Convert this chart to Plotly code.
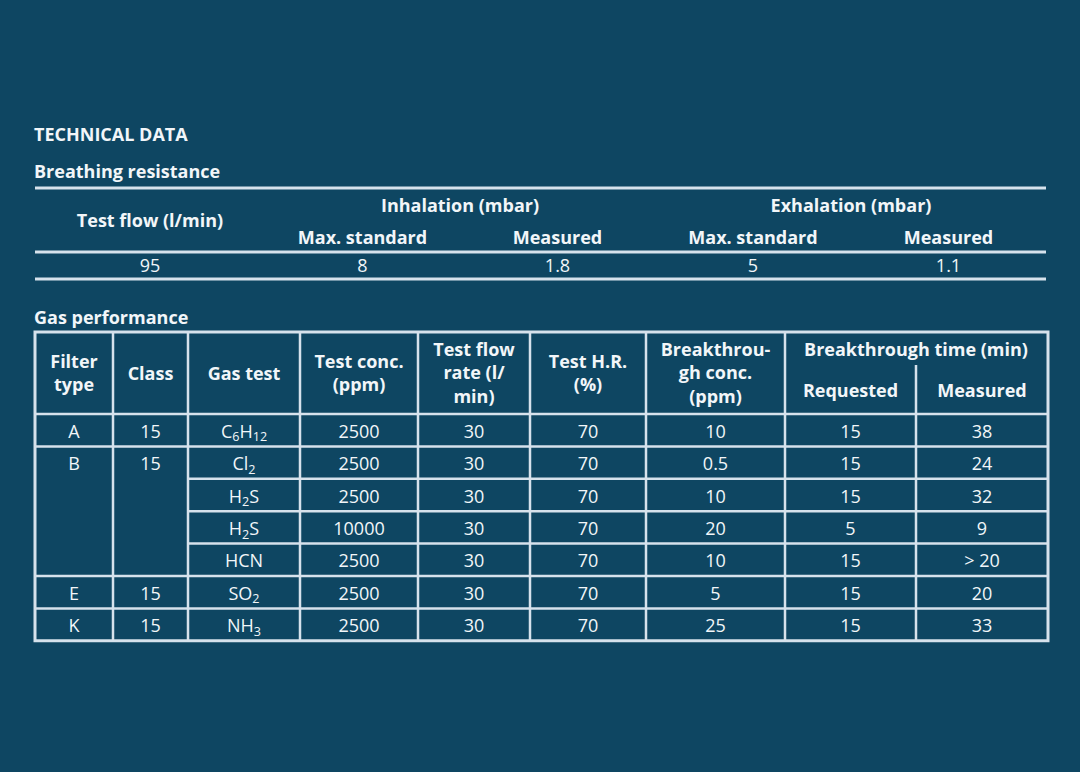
import plotly.graph_objects as go

# ---- data: breathing resistance ----
br_flow_header = "Test flow (l/min)"
br_groups = ["Inhalation (mbar)", "Exhalation (mbar)"]
br_subheaders = ["Max. standard", "Measured", "Max. standard", "Measured"]
br_values = ["95", "8", "1.8", "5", "1.1"]

# ---- data: gas performance ----
gas_headers = ["Filter<br>type", "Class", "Gas test", "Test conc.<br>(ppm)",
               "Test flow<br>rate (l/<br>min)", "Test H.R.<br>(%)",
               "Breakthrou-<br>gh conc.<br>(ppm)"]
bt_group = "Breakthrough time (min)"
bt_subheaders = ["Requested", "Measured"]

filter_types = ["A", "B", "E", "K"]
filter_classes = ["15", "15", "15", "15"]
filter_span = [1, 4, 1, 1]  # number of gas tests per filter type
gas_tests = ["C<sub>6</sub>H<sub>12</sub>", "Cl<sub>2</sub>", "H<sub>2</sub>S",
             "H<sub>2</sub>S", "HCN", "SO<sub>2</sub>", "NH<sub>3</sub>"]
test_conc = ["2500", "2500", "2500", "10000", "2500", "2500", "2500"]
test_flow = ["30", "30", "30", "30", "30", "30", "30"]
test_hr = ["70", "70", "70", "70", "70", "70", "70"]
bt_conc = ["10", "0.5", "10", "20", "10", "5", "25"]
bt_requested = ["15", "15", "15", "5", "15", "15", "15"]
bt_measured = ["38", "24", "32", "9", "> 20", "20", "33"]

# ---- layout constants (pixel space) ----
W, H = 1080, 772
BG = "#0e4662"
LINE = "#d6e2ec"
TXT = "#f2f6f9"
FONT = "Open Sans"

br_cols = [35, 265, 460, 655, 851, 1046]
br_top, br_mid, br_bot = 188, 252, 279

gp_cols = [35, 113, 188, 300, 418, 530, 646, 785, 916, 1048]
gp_top, gp_head = 332, 414
row_h = 32.4

fig = go.Figure()
shapes = []


def hline(x0, x1, y, w=2.5):
    shapes.append(dict(type="line", xref="x", yref="y", x0=x0, x1=x1, y0=y, y1=y,
                       line=dict(color=LINE, width=w)))


def vline(x, y0, y1, w=2.5):
    shapes.append(dict(type="line", xref="x", yref="y", x0=x, x1=x, y0=y0, y1=y1,
                       line=dict(color=LINE, width=w)))


def add_text(xs, ys, texts, size=18, bold=False, pos="middle center"):
    fig.add_trace(go.Scatter(
        x=xs, y=ys, text=texts, mode="text", textposition=pos,
        textfont=dict(family=FONT, size=size, color=TXT, weight=700 if bold else 400),
        hoverinfo="skip", showlegend=False))


def centers(cols):
    return [(a + b) / 2 for a, b in zip(cols[:-1], cols[1:])]


# section titles
add_text([34], [136], ["TECHNICAL DATA"], bold=True, pos="middle right")
add_text([34], [173], ["Breathing resistance"], bold=True, pos="middle right")
add_text([34], [319], ["Gas performance"], bold=True, pos="middle right")

# ---- breathing resistance table ----
brc = centers(br_cols)
hline(br_cols[0], br_cols[-1], br_top, 3)
hline(br_cols[0], br_cols[-1], br_mid, 3)
hline(br_cols[0], br_cols[-1], br_bot, 3)
add_text([brc[0]], [222], [br_flow_header], bold=True)
add_text([br_cols[2], br_cols[4]], [207, 207], br_groups, bold=True)
add_text(brc[1:], [239] * 4, br_subheaders, bold=True)
add_text(brc, [267] * 5, br_values)

# ---- gas performance table ----
gpc = centers(gp_cols)
n_rows = len(gas_tests)
gp_bot = gp_head + n_rows * row_h
row_y = [gp_head + (i + 0.5) * row_h + 3 for i in range(n_rows)]

# outer frame
shapes.append(dict(type="rect", xref="x", yref="y", x0=gp_cols[0], x1=gp_cols[-1],
                   y0=gp_top, y1=gp_bot, line=dict(color=LINE, width=3)))
for x in gp_cols[1:-1]:
    if x == gp_cols[8]:
        vline(x, 365, gp_bot)
    else:
        vline(x, gp_top, gp_bot)
hline(gp_cols[0], gp_cols[-1], gp_head)

group_ends = []
acc = 0
for s in filter_span:
    acc += s
    group_ends.append(acc)
for k in range(1, n_rows):
    y = gp_head + k * row_h
    x0 = gp_cols[0] if k in group_ends else gp_cols[2]
    hline(x0, gp_cols[-1], y)

# headers
head_y = [375] * 7
add_text(gpc[:7], head_y, gas_headers, bold=True)
add_text([gp_cols[8]], [351], [bt_group], bold=True)
add_text(gpc[7:], [392, 392], bt_subheaders, bold=True)

# group cells (text at the top row of each group)
starts = [0] + group_ends[:-1]
add_text([gpc[0]] * len(filter_types), [row_y[s] for s in starts], filter_types)
add_text([gpc[1]] * len(filter_classes), [row_y[s] for s in starts], filter_classes)

for col, vals in zip(gpc[2:], [gas_tests, test_conc, test_flow, test_hr, bt_conc,
                               bt_requested, bt_measured]):
    add_text([col] * n_rows, row_y, vals)

fig.update_layout(
    width=W, height=H, margin=dict(l=0, r=0, t=0, b=0),
    paper_bgcolor=BG, plot_bgcolor=BG, shapes=shapes,
    xaxis=dict(range=[0, W], visible=False, fixedrange=True),
    yaxis=dict(range=[H, 0], visible=False, fixedrange=True),
)
fig.write_html("out.html", config={"displayModeBar": False},
               post_script="document.body.style.margin='0';")
